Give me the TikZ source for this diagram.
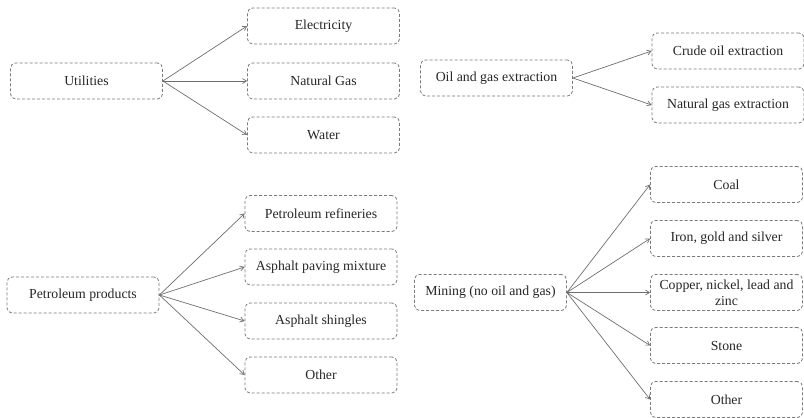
\documentclass[tikz,border=0pt]{standalone}
\usepackage{fontspec}
\setmainfont{Liberation Serif}
\usetikzlibrary{arrows.meta}
\definecolor{boxgray}{HTML}{7A7A7A}
\definecolor{txtgray}{HTML}{262626}
\begin{document}
\begin{tikzpicture}[x=1pt,y=-1pt,
  box/.style={draw=boxgray, dashed, dash pattern=on 3pt off 2pt, line width=0.8pt,
    rounded corners=5pt, minimum width=152pt, minimum height=36pt,
    text=txtgray, font=\fontsize{13.8}{16}\selectfont, align=center, inner sep=2pt},
  conn/.style={draw=boxgray!90!black, line width=0.7pt, -{Straight Barb[length=4pt,width=5pt]}}]
\useasboundingbox (0,0) rectangle (804,418);
% Utilities
\node[box] (util) at (86.5,81) {Utilities};
\node[box] (elec) at (323.5,26) {Electricity};
\node[box] (ngas) at (323.5,81) {Natural Gas};
\node[box] (water) at (323.5,135) {Water};
\foreach \t in {elec,ngas,water} \draw[conn] (util.east) -- (\t.west);
% Oil and gas extraction
\node[box] (oil) at (496.5,78) {Oil and gas extraction};
\node[box] (crude) at (728,51) {Crude oil extraction};
\node[box] (ngext) at (728,105) {Natural gas extraction};
\foreach \t in {crude,ngext} \draw[conn] (oil.east) -- (\t.west);
% Petroleum products
\node[box] (petro) at (83,295) {Petroleum products};
\node[box] (refin) at (321,213.5) {Petroleum refineries};
\node[box] (paving) at (321,267) {Asphalt paving mixture};
\node[box] (shingle) at (321,321) {Asphalt shingles};
\node[box] (pother) at (321,375) {Other};
\foreach \t in {refin,paving,shingle,pother} \draw[conn] (petro.east) -- (\t.west);
% Mining
\node[box] (mining) at (490.5,292.5) {Mining (no oil and gas)};
\node[box] (coal) at (726.5,184.5) {Coal};
\node[box] (iron) at (726.5,238.5) {Iron, gold and silver};
\node[box] (copper) at (726.5,292.5) {Copper, nickel, lead and\\zinc};
\node[box] (stone) at (726.5,345.5) {Stone};
\node[box] (mother) at (726.5,399.5) {Other};
\foreach \t in {coal,iron,copper,stone,mother} \draw[conn] (mining.east) -- (\t.west);
\end{tikzpicture}
\end{document}
